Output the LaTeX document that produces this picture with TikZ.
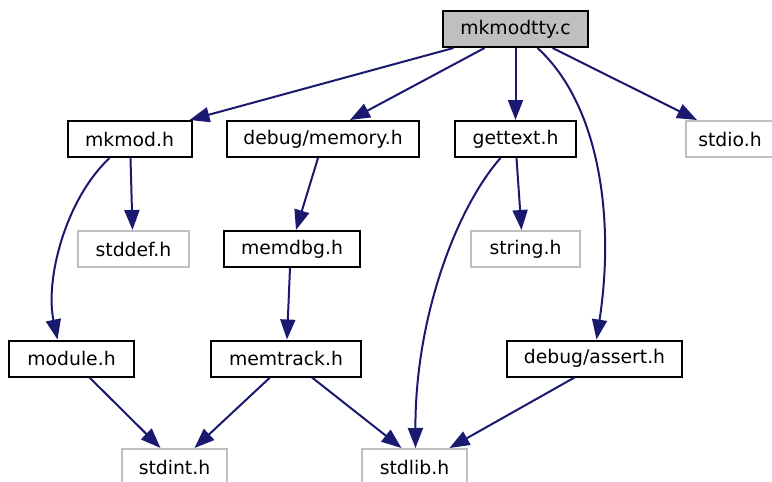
\documentclass[tikz,border=0pt]{standalone}
\usepackage{fontspec}
\setmainfont{DejaVu Sans}
\usetikzlibrary{arrows.meta,calc}
\definecolor{edgeblue}{HTML}{191970}
\definecolor{lgray}{HTML}{BFBFBF}
\begin{document}
\begin{tikzpicture}[x=1pt,y=-1pt,
  box/.style={draw=black,line width=2pt,minimum height=36pt,inner sep=0pt,font=\fontsize{18.8}{22}\selectfont,fill=white},
  sysbox/.style={box,draw=lgray},
  topbox/.style={box,fill=lgray},
  edge/.style={draw=edgeblue,line width=2pt,-{Triangle[length=20pt,width=15pt]}}]
\useasboundingbox (0,0) rectangle (772,482);
\node[topbox,minimum width=145pt] (top) at (515.5,29) {mkmodtty.c};
\node[box,minimum width=124pt] (mkmod) at (129.5,139) {mkmod.h};
\node[box,minimum width=192pt] (memory) at (323,139) {debug/memory.h};
\node[box,minimum width=121pt] (gettext) at (515.5,139) {gettext.h};
\node[sysbox,minimum width=88pt] (stdio) at (730,139) {stdio.h};
\node[sysbox,minimum width=111pt] (stddef) at (133.5,249) {stddef.h};
\node[box,minimum width=136pt] (memdbg) at (292,249) {memdbg.h};
\node[sysbox,minimum width=109pt] (string) at (525.5,249) {string.h};
\node[box,minimum width=125pt] (module) at (71.5,358.5) {module.h};
\node[box,minimum width=150pt] (memtrack) at (286,358.5) {memtrack.h};
\node[box,minimum width=175pt] (assert) at (594.5,358.5) {debug/assert.h};
\node[sysbox,minimum width=105pt] (stdint) at (174.5,467) {stdint.h};
\node[sysbox,minimum width=105pt] (stdlib) at (414.5,467) {stdlib.h};

\draw[edge] ([xshift=-62pt]top.south) -- ([xshift=60pt]mkmod.north);
\draw[edge] ([xshift=-31pt]top.south) -- ([xshift=27pt]memory.north);
\draw[edge] (top.south) -- (gettext.north);
\draw[edge] ([xshift=37pt]top.south) -- ([xshift=-33pt]stdio.north);
\draw[edge] ([xshift=22pt]top.south) .. controls (600,105) and (615,220) .. ([xshift=2pt]assert.north);
\draw[edge] ([xshift=1pt]mkmod.south) -- ([xshift=-1pt]stddef.north);
\draw[edge] ([xshift=-20pt]mkmod.south) .. controls (65,200) and (45,280) .. ([xshift=-14pt]module.north);
\draw[edge] ([xshift=-5pt]memory.south) -- ([xshift=4pt]memdbg.north);
\draw[edge] ([xshift=1pt]gettext.south) -- ([xshift=-4pt]string.north);
\draw[edge] ([xshift=-15pt]gettext.south) .. controls (455,210) and (415,320) .. ([xshift=1pt]stdlib.north);
\draw[edge] ([xshift=-2pt]memdbg.south) -- ([xshift=1pt]memtrack.north);
\draw[edge] ([xshift=18pt]module.south) -- ([xshift=-14pt]stdint.north);
\draw[edge] ([xshift=-16pt]memtrack.south) -- ([xshift=20pt]stdint.north);
\draw[edge] ([xshift=26pt]memtrack.south) -- ([xshift=-13pt]stdlib.north);
\draw[edge] ([xshift=-20pt]assert.south) -- ([xshift=35pt]stdlib.north);
\end{tikzpicture}
\end{document}
